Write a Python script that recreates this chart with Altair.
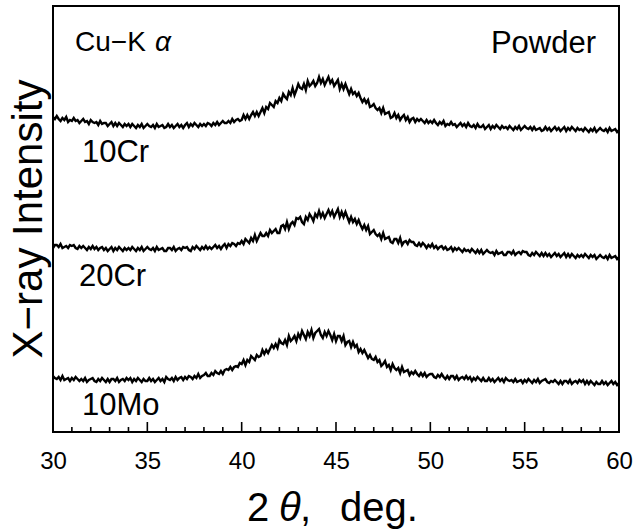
import altair as alt
import pandas as pd

# 2-theta sampling grid (deg), 30 -> 60 in 0.1 deg steps
two_theta = [round(30 + 0.1 * i, 1) for i in range(301)]

# intensities (arbitrary units, same scale for all three)
cr10 = [
    315, 313, 316, 313, 311, 314, 312, 315, 310, 312,   # 30
    311, 314, 311, 312, 309, 311, 313, 310, 311, 308,   # 31
    312, 310, 309, 310, 307, 311, 308, 309, 309, 306,   # 32
    308, 310, 306, 309, 306, 309, 307, 305, 308, 306,   # 33
    308, 305, 308, 306, 304, 307, 305, 308, 304, 306,   # 34
    308, 306, 305, 307, 304, 308, 305, 306, 307, 304,   # 35
    305, 308, 305, 307, 304, 306, 308, 305, 307, 304,   # 36
    307, 309, 305, 308, 306, 309, 307, 305, 308, 306,   # 37
    308, 306, 309, 308, 306, 309, 307, 310, 307, 309,   # 38
    311, 309, 309, 311, 309, 313, 310, 312, 313, 311,   # 39
    312, 317, 313, 317, 313, 317, 320, 316, 320, 316,   # 40
    320, 324, 319, 325, 323, 329, 327, 325, 331, 329,   # 41
    334, 331, 338, 335, 333, 340, 337, 344, 337, 342,   # 42
    348, 344, 343, 348, 342, 351, 346, 348, 351, 346,   # 43
    349, 355, 349, 353, 347, 351, 355, 349, 352, 346,   # 44
    349, 352, 343, 348, 343, 348, 343, 338, 343, 338,   # 45
    340, 336, 339, 334, 330, 333, 329, 332, 325, 326,   # 46
    328, 324, 322, 324, 319, 324, 318, 319, 320, 314,   # 47
    315, 319, 314, 317, 312, 315, 317, 312, 315, 310,   # 48
    313, 314, 310, 313, 311, 313, 311, 309, 312, 309,   # 49
    311, 309, 312, 309, 307, 310, 308, 311, 306, 308,   # 50
    307, 310, 307, 308, 305, 307, 309, 306, 308, 305,   # 51
    309, 306, 305, 307, 304, 308, 305, 305, 307, 303,   # 52
    305, 307, 303, 306, 304, 307, 305, 303, 306, 304,   # 53
    305, 303, 306, 304, 302, 305, 303, 306, 302, 304,   # 54
    306, 304, 303, 305, 302, 305, 302, 303, 304, 301,   # 55
    302, 305, 302, 304, 301, 303, 305, 302, 304, 301,   # 56
    303, 305, 301, 304, 302, 305, 303, 301, 304, 302,   # 57
    303, 301, 304, 302, 300, 303, 301, 304, 300, 302,   # 58
    304, 302, 301, 303, 300, 304, 301, 302, 303, 300,   # 59
    302,                                                # 60
]
cr20 = [
    184, 187, 187, 185, 188, 184, 185, 186, 184, 187,   # 30
    186, 187, 184, 183, 186, 184, 186, 184, 182, 185,   # 31
    183, 186, 183, 185, 182, 184, 185, 182, 184, 181,   # 32
    183, 185, 181, 184, 182, 185, 183, 181, 184, 182,   # 33
    184, 182, 185, 183, 181, 184, 182, 185, 181, 183,   # 34
    185, 183, 182, 184, 181, 185, 182, 183, 184, 181,   # 35
    181, 184, 184, 182, 185, 181, 183, 184, 182, 185,   # 36
    184, 185, 182, 181, 185, 183, 186, 184, 182, 185,   # 37
    183, 186, 183, 185, 183, 185, 187, 184, 186, 183,   # 38
    186, 188, 184, 188, 186, 189, 188, 186, 189, 188,   # 39
    191, 188, 193, 191, 189, 194, 191, 197, 191, 195,   # 40
    199, 196, 196, 199, 196, 202, 199, 201, 203, 199,   # 41
    199, 206, 207, 203, 210, 203, 208, 210, 207, 214,   # 42
    213, 215, 210, 208, 215, 212, 218, 215, 211, 218,   # 43
    215, 221, 215, 219, 214, 218, 222, 217, 221, 215,   # 44
    219, 223, 215, 220, 215, 220, 215, 210, 215, 210,   # 45
    213, 208, 212, 207, 203, 207, 202, 206, 198, 200,   # 46
    202, 198, 196, 198, 193, 199, 193, 194, 195, 190,   # 47
    189, 193, 193, 189, 194, 187, 190, 191, 188, 192,   # 48
    190, 190, 187, 186, 189, 186, 189, 187, 184, 187,   # 49
    185, 188, 184, 186, 183, 185, 186, 183, 185, 182,   # 50
    183, 185, 181, 184, 182, 184, 182, 180, 183, 181,   # 51
    182, 180, 183, 181, 179, 182, 179, 182, 178, 180,   # 52
    182, 180, 179, 180, 177, 181, 178, 179, 180, 177,   # 53
    177, 180, 180, 178, 181, 177, 179, 180, 178, 181,   # 54
    180, 180, 177, 176, 179, 177, 180, 178, 176, 179,   # 55
    176, 179, 176, 178, 175, 177, 179, 176, 178, 175,   # 56
    177, 179, 175, 178, 175, 178, 176, 174, 177, 175,   # 57
    177, 175, 178, 176, 174, 177, 175, 177, 173, 175,   # 58
    177, 175, 174, 176, 173, 177, 174, 175, 176, 173,   # 59
    175,                                                # 60
]
mo10 = [
    56, 54, 53, 55, 52, 56, 52, 53, 54, 51,   # 30
    54, 52, 55, 53, 51, 53, 51, 54, 50, 52,   # 31
    53, 54, 51, 50, 53, 51, 54, 52, 50, 53,   # 32
    50, 53, 53, 51, 54, 50, 52, 53, 51, 54,   # 33
    52, 54, 50, 53, 51, 54, 52, 50, 53, 51,   # 34
    51, 54, 51, 53, 50, 52, 54, 51, 53, 50,   # 35
    55, 53, 52, 54, 51, 55, 52, 54, 55, 52,   # 36
    55, 53, 56, 55, 53, 56, 54, 58, 54, 56,   # 37
    57, 59, 56, 56, 59, 57, 61, 59, 58, 61,   # 38
    58, 62, 63, 62, 65, 62, 65, 66, 65, 69,   # 39
    68, 72, 67, 72, 70, 76, 74, 72, 77, 75,   # 40
    76, 82, 78, 82, 79, 83, 87, 84, 88, 84,   # 41
    92, 89, 88, 92, 87, 96, 91, 93, 96, 91,   # 42
    98, 94, 101, 97, 93, 100, 96, 102, 94, 99,   # 43
    101, 103, 97, 94, 100, 96, 101, 97, 92, 98,  # 44
    91, 96, 96, 91, 96, 87, 90, 91, 85, 90,   # 45
    85, 87, 80, 83, 79, 82, 78, 74, 77, 73,   # 46
    72, 75, 70, 72, 66, 68, 71, 65, 67, 62,   # 47
    68, 64, 62, 64, 59, 65, 60, 61, 62, 57,   # 48
    60, 58, 61, 58, 56, 59, 56, 59, 55, 57,   # 49
    58, 58, 55, 54, 57, 55, 58, 55, 53, 56,   # 50
    53, 56, 56, 53, 56, 52, 54, 55, 53, 56,   # 51
    53, 55, 51, 54, 52, 55, 53, 51, 54, 51,   # 52
    51, 54, 51, 53, 50, 52, 54, 51, 53, 50,   # 53
    54, 52, 51, 52, 50, 53, 50, 51, 52, 49,   # 54
    52, 50, 53, 51, 49, 52, 50, 53, 49, 51,   # 55
    52, 53, 50, 49, 51, 50, 52, 50, 48, 51,   # 56
    48, 51, 51, 49, 52, 48, 50, 51, 49, 52,   # 57
    50, 52, 48, 51, 48, 51, 49, 47, 50, 48,   # 58
    48, 51, 48, 50, 47, 49, 51, 48, 50, 47,   # 59
    49,                                       # 60
]
sample_names = ["10Cr", "20Cr", "10Mo"]
major_ticks = [30, 35, 40, 45, 50, 55, 60]
minor_ticks = [31, 32, 33, 34, 36, 37, 38, 39, 41, 42, 43, 44, 46, 47, 48, 49,
               51, 52, 53, 54, 56, 57, 58, 59]

FONT = "Liberation Sans"
W, H = 566, 426

rows = []
for name, series in zip(sample_names, [cr10, cr20, mo10]):
    for a, v in zip(two_theta, series):
        rows.append({"sample": name, "angle": a, "intensity": v})
df = pd.DataFrame(rows)

xscale = alt.Scale(domain=[30, 60], nice=False, zero=False)
yscale = alt.Scale(domain=[0, 426], nice=False, zero=False)

lines = alt.Chart(df).mark_line(color="black", strokeWidth=2.4).encode(
    x=alt.X("angle:Q", scale=xscale,
            axis=alt.Axis(values=major_ticks, format="d", title=None)),
    y=alt.Y("intensity:Q", scale=yscale, axis=None),
    detail="sample:N",
)

major = alt.Chart(pd.DataFrame({"angle": major_ticks})).mark_rule(
    color="black", strokeWidth=1.6).encode(
    x=alt.X("angle:Q", scale=xscale),
    y=alt.value(H), y2=alt.value(H - 10),
)
minor = alt.Chart(pd.DataFrame({"angle": minor_ticks})).mark_rule(
    color="black", strokeWidth=1.6).encode(
    x=alt.X("angle:Q", scale=xscale),
    y=alt.value(H), y2=alt.value(H - 5),
)


def label(text, px, py, size, align="left", style="normal", angle=0):
    kw = dict(font=FONT, fontSize=size, align=align, baseline="alphabetic",
              color="black", fontStyle=style)
    if angle:
        kw["angle"] = angle
    return alt.Chart(pd.DataFrame({"t": [text]})).mark_text(**kw).encode(
        text="t:N", x=alt.value(px), y=alt.value(py))


texts = [
    label("Cu\u2212K", 22, 45, 28),
    label("\u03b1", 102, 45, 28, style="italic"),
    label("Powder", 543, 47, 31, align="right"),
    label(sample_names[0], 29, 156, 31),
    label(sample_names[1], 26, 280, 31),
    label(sample_names[2], 29, 409, 31),
    label("2", 194, 515, 40),
    label("\u03b8", 226, 515, 40, style="italic"),
    label(",", 247, 515, 40),
    label("deg.", 287, 515, 40),
    label("X\u2212ray Intensity", -11, 213, 42, align="center", angle=270),
]

chart = alt.layer(lines, major, minor, *texts).properties(
    width=W, height=H,
    background="white",
    autosize=alt.AutoSizeParams(type="none"),
    padding={"left": 53, "top": 6, "right": 16, "bottom": 99},
).configure_view(
    stroke="black", strokeWidth=2
).configure_axisX(
    ticks=False, domain=False, grid=False, labelFont=FONT, labelFontSize=24,
    labelColor="black", labelPadding=17, labelFlush=False, labelOverlap=False,
)

chart.save("out.html", embed_options={"renderer": "svg", "actions": False})
